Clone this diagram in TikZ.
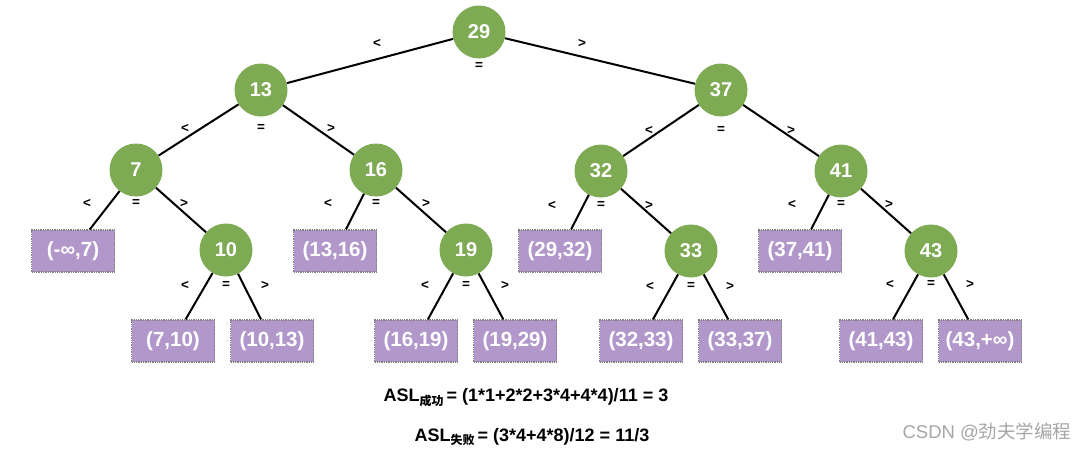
\documentclass[tikz,border=0pt]{standalone}
\usepackage{fontspec}
\setmainfont{Liberation Sans}
\newfontfamily\cjk{Noto Sans CJK SC}
\definecolor{ngreen}{HTML}{7EAA54}
\definecolor{npurple}{HTML}{B297CA}
\definecolor{bgray}{HTML}{808080}
\begin{document}
\begin{tikzpicture}[x=1pt,y=-1pt,
  inner/.style={circle,fill=ngreen,minimum size=53pt,inner sep=0pt,text=white,font=\fontsize{20}{24}\selectfont\bfseries},
  leaf/.style={rectangle,fill=npurple,draw=bgray,densely dotted,line width=1.3pt,minimum width=83pt,minimum height=42pt,inner sep=0pt,text=white,font=\fontsize{20.5}{24}\selectfont\bfseries},
  edge/.style={draw=black,line width=2pt},
  lbl/.style={font=\fontsize{13.5}{16}\selectfont\bfseries,inner sep=0pt},
  formula/.style={font=\fontsize{18}{21}\selectfont\bfseries,inner sep=0pt}]
\useasboundingbox (0,0) rectangle (1088,450);
% inner nodes
\node[inner] (n29) at (479,32) {29};
\node[inner] (n13) at (261,90) {13};
\node[inner] (n37) at (721,90) {37};
\node[inner] (n7) at (136,170) {7};
\node[inner] (n16) at (376,170) {16};
\node[inner] (n32) at (601,171) {32};
\node[inner] (n41) at (841,171) {41};
\node[inner] (n10) at (226,250) {10};
\node[inner] (n19) at (466,250) {19};
\node[inner] (n33) at (691,251) {33};
\node[inner] (n43) at (931,251) {43};
% leaves
\node[leaf] (lA) at (73,251) {(-∞,7)};
\node[leaf] (lB) at (335,251) {(13,16)};
\node[leaf] (lC) at (560,251) {(29,32)};
\node[leaf] (lD) at (800,251) {(37,41)};
\node[leaf] (lE) at (173,341) {(7,10)};
\node[leaf] (lF) at (272,341) {(10,13)};
\node[leaf] (lG) at (416,341) {(16,19)};
\node[leaf] (lH) at (515,341) {(19,29)};
\node[leaf] (lI) at (641,341) {(32,33)};
\node[leaf] (lJ) at (740,341) {(33,37)};
\node[leaf] (lK) at (881,341) {(41,43)};
\node[leaf] (lL) at (980,341) {(43,+∞)};
% edges
\draw[edge] (n29) -- (n13);
\draw[edge] (n29) -- (n37);
\draw[edge] (n13) -- (n7);
\draw[edge] (n13) -- (n16);
\draw[edge] (n37) -- (n32);
\draw[edge] (n37) -- (n41);
\draw[edge] (n7) -- (lA);
\draw[edge] (n7) -- (n10);
\draw[edge] (n16) -- (lB);
\draw[edge] (n16) -- (n19);
\draw[edge] (n32) -- (lC);
\draw[edge] (n32) -- (n33);
\draw[edge] (n41) -- (lD);
\draw[edge] (n41) -- (n43);
\draw[edge] (n10) -- (lE);
\draw[edge] (n10) -- (lF);
\draw[edge] (n19) -- (lG);
\draw[edge] (n19) -- (lH);
\draw[edge] (n33) -- (lI);
\draw[edge] (n33) -- (lJ);
\draw[edge] (n43) -- (lK);
\draw[edge] (n43) -- (lL);
% comparison labels
\foreach \nm/\x/\y/\dl/\dr/\dy/\de in {
  29/479/32/102/103/11/34,
  13/261/90/76/70/38/38,
  37/721/90/72/70/40/40,
  7/136/170/49/48/33/33,
  16/376/170/48/50/33/33,
  32/601/171/49/48/34/34,
  41/841/171/49/48/33/33,
  10/226/250/41/39/35/35,
  19/466/250/41/39/35/35,
  33/691/251/41/39/35/35,
  43/931/251/41/39/33/33}{
  \node[lbl] (lt\nm) at (\x-\dl,\y+\dy) {<};
  \node[lbl] (eq\nm) at (\x,\y+\de) {=};
  \node[lbl] (gt\nm) at (\x+\dr,\y+\dy) {>};
}
% formulas
\node[formula] (f1) at (526,398) {ASL\raisebox{-0.4ex}{\fontsize{12}{14}\selectfont\cjk\bfseries 成功}\,= (1*1+2*2+3*4+4*4)/11 = 3};
\node[formula] (f2) at (532,437) {ASL\raisebox{-0.4ex}{\fontsize{12}{14}\selectfont\cjk\bfseries 失败}\,= (3*4+4*8)/12 = 11/3};
% watermark
\node[font=\fontsize{18.5}{22}\selectfont,text=black!35,inner sep=0pt] (wm) at (987,432) {CSDN @{\cjk 劲夫学编程}};
\end{tikzpicture}
\end{document}
